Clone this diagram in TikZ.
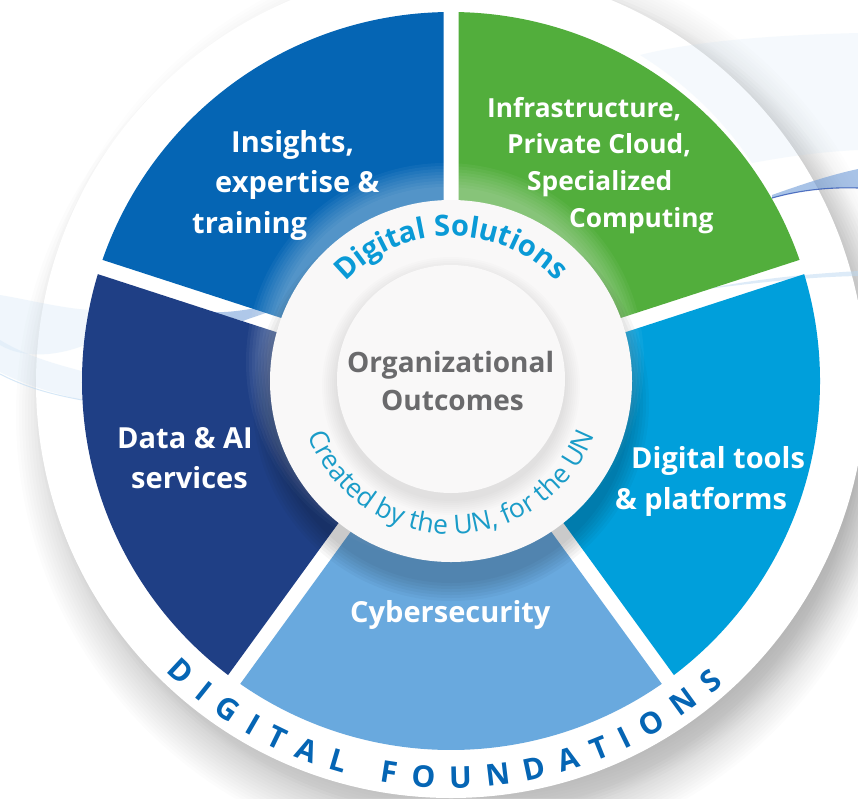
\documentclass[tikz,border=0pt]{standalone}
\usepackage{fontspec}
\setmainfont{Open Sans}
\usetikzlibrary{decorations.text}
\definecolor{cblue}{HTML}{0565B4}
\definecolor{cgreen}{HTML}{52AE3C}
\definecolor{ccyan}{HTML}{009FDB}
\definecolor{clight}{HTML}{69A9DE}
\definecolor{cdark}{HTML}{1F3F85}
\definecolor{ctxtgrey}{HTML}{6A6A6C}
\definecolor{cdisc}{HTML}{F9F8F8}
\definecolor{cds}{HTML}{0A9AD6}
\definecolor{ccr}{HTML}{1A9CC8}
\definecolor{cdf}{HTML}{0565B4}
\definecolor{cband}{HTML}{BCD9F2}
\definecolor{cswoosh}{HTML}{6F9BD8}
\definecolor{cline}{HTML}{2F55B5}
\tikzset{
  lbl/.style={anchor=base west,inner sep=0pt,text=white,font=\fontsize{29}{35}\selectfont\bfseries},
  lblg/.style={lbl,font=\fontsize{26.3}{32}\selectfont\bfseries},
  ctr/.style={anchor=base west,inner sep=0pt,text=ctxtgrey,font=\fontsize{28}{34}\selectfont\bfseries}
}
\newcommand{\sector}[3]{%
  \fill[#1] ({#2+1.165}:369) arc[start angle={#2+1.165},end angle={#3-1.165},radius=369pt]
     -- ({#3-2.53}:170) -- ({#2+2.53}:170) -- cycle;}
\begin{document}
\begin{tikzpicture}[x=1pt,y=-1pt]
\useasboundingbox (0,0) rectangle (858,798);
\clip (0,0) rectangle (858,798);
\fill[white] (0,0) rectangle (858,798);
% haze and shadows outside ring
\foreach \r in {400,403,...,436} \fill[black,fill opacity=0.007] (470,383) circle[radius=\r pt];
\foreach \r in {400,403,...,447} \fill[black,fill opacity=0.013] (461,415) circle[radius=\r pt];
\fill[white] (451,383) circle[radius=415pt];
% swooshes
\fill[cband,fill opacity=0.14] (640,55) .. controls (700,40) and (780,35) .. (858,33) -- (858,150)
   .. controls (820,152) and (790,156) .. (752,163) .. controls (720,115) and (680,80) .. cycle;
\fill[cband,fill opacity=0.22] (0,295) .. controls (30,300) and (60,308) .. (90,310) -- (85,345)
   .. controls (60,355) and (25,360) .. (0,345) -- cycle;
\fill[cband,fill opacity=0.22] (0,340) .. controls (30,358) and (60,365) .. (85,372) -- (82,400)
   .. controls (50,392) and (25,385) .. (0,372) -- cycle;
\draw[cband,line width=1pt,opacity=.6] (0,374) .. controls (25,387) and (50,394) .. (82,400);
\fill[cswoosh,fill opacity=0.55] (212,312) .. controls (230,313) and (250,309) .. (262,307) -- (268,312)
   .. controls (258,316) and (250,318) .. (243,321) -- cycle;
\fill[cband,fill opacity=0.5] (700,290) .. controls (760,278) and (810,274) .. (858,271) -- (858,276)
   .. controls (810,277) and (760,282) .. (700,290) -- cycle;
\fill[cswoosh,fill opacity=0.6] (772,195) .. controls (800,185) and (830,175) .. (858,169) -- (858,188)
   .. controls (830,187) and (800,190) .. (772,198) -- cycle;
\draw[color=cline,line width=1.1pt,opacity=.8] (772,198) .. controls (800,190) and (830,187) .. (858,188);
% sectors
\begin{scope}[shift={(451,381)},y=1pt]
  \sector{cblue}{90}{162}
  \sector{cdark}{162}{234}
  \sector{clight}{234}{306}
  \sector{ccyan}{306}{378}
  \sector{cgreen}{18}{90}
\end{scope}
% halo and shadow of the disc
\foreach \r in {175,178,...,199} \fill[white,fill opacity=0.045] (445,362) circle[radius=\r pt];
\foreach \r in {180,183,...,198} \fill[black,fill opacity=0.03] (451,403) circle[radius=\r pt];
% disc
\fill[cdisc] (451,381) circle[radius=181pt];
\foreach \r in {115,117,...,129} \fill[black,fill opacity=0.012] (451,386) circle[radius=\r pt];
\fill[cdisc] (451,379) circle[radius=114pt];
% curved texts
\begin{scope}[shift={(451,381)},y=1pt]
  \path[decorate,decoration={text along path,text align=center,
     text={|\fontsize{29}{34}\selectfont\bfseries\color{cds}|Digital Solutions}}]
     (170:145) arc[start angle=170,end angle=10,radius=145pt];
  \path[decorate,decoration={text along path,text align=center,
     text={|\fontsize{26.5}{31}\selectfont\color{ccr}|Created by the UN, for the UN}}]
     (190:153) arc[start angle=190,end angle=350,radius=153pt];
  \path[decorate,decoration={text along path,text align=fit to path,
     text={|\fontsize{30}{35}\selectfont\bfseries\color{cdf}|DIGITAL FOUNDATIONS}}]
     (225.5:407) arc[start angle=225.5,end angle=312,radius=407pt];
\end{scope}
% labels
\node[lbl] (a1) at (231,152) {Insights,};
\node[lbl] (a2) at (215,192) {expertise \&};
\node[lbl] (a3) at (192,233) {training};
\node[lblg] (b1) at (487,117) {Infrastructure,};
\node[lblg] (b2) at (507,153) {Private Cloud,};
\node[lblg] (b3) at (527,190) {Specialized};
\node[lblg] (b4) at (569,227) {Computing};
\node[lbl] (c1) at (117,448) {Data \& AI};
\node[lbl] (c2) at (131,488) {services};
\node[lbl] (d1) at (631,468) {Digital tools};
\node[lbl] (d2) at (615,509) {\& platforms};
\node[lbl] (e1) at (350,622) {Cybersecurity};
\node[ctr] (f1) at (347,372) {Organizational};
\node[ctr] (f2) at (381,410) {Outcomes};
\end{tikzpicture}
\end{document}
